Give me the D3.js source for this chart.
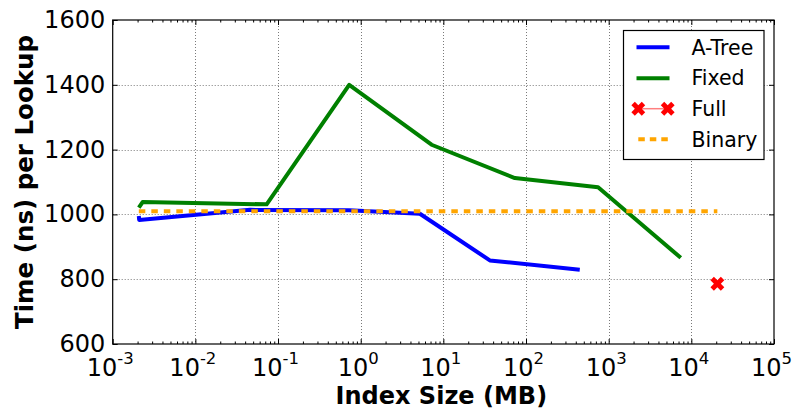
<!DOCTYPE html>
<html>
<head>
<meta charset="utf-8">
<script src="https://cdn.jsdelivr.net/npm/d3@7"></script>
<style>
  html, body { margin: 0; padding: 0; background: #fff; }
  svg { display: block; }
  text { font-family: "DejaVu Sans", sans-serif; fill: #000; }
</style>
</head>
<body>
<script>
// ---- data ----
const atreeSize = [0.00207, 0.00209, 0.046, 0.72, 5.2, 36.5, 447];
const atreeTime = [995, 983, 1014, 1013, 1002, 858, 829];

const fixedSize = [0.00207, 0.0023, 0.0728, 0.726, 7.2, 73.3, 745, 7450];
const fixedTime = [1021, 1038, 1031, 1400, 1215, 1112, 1084, 866];

const fullSize = [20650];
const fullTime = [786];

const binarySize = [0.00207, 20650];
const binaryTime = [1010, 1010];

const xTickExps = [-3, -2, -1, 0, 1, 2, 3, 4, 5];
const yTicks = [600, 800, 1000, 1200, 1400, 1600];

const legendNames = ["A-Tree", "Fixed", "Full", "Binary"];

// ---- layout ----
const W = 797, H = 416;
const L = 112.7, R = 774, T = 20, B = 344;

const svg = d3.select("body").append("svg").attr("width", W).attr("height", H);

const x = d3.scaleLog().domain([1e-3, 1e5]).range([L, R]);
const y = d3.scaleLinear().domain([600, 1600]).range([B, T]);

const zip = (a, b) => a.map((v, i) => [v, b[i]]);

// grid
const grid = svg.append("g").attr("stroke", "#7a7a7a").attr("stroke-width", 1).attr("stroke-dasharray", "1,2").attr("fill", "none");
xTickExps.slice(1, -1).forEach(e => {
  const px = Math.round(x(Math.pow(10, e))) + 0.5;
  grid.append("line").attr("x1", px).attr("x2", px).attr("y1", T).attr("y2", B);
});
yTicks.slice(1, -1).forEach(v => {
  const py = Math.round(y(v)) + 0.5;
  grid.append("line").attr("x1", L).attr("x2", R).attr("y1", py).attr("y2", py);
});

// lines
const line = d3.line().x(d => x(d[0])).y(d => y(d[1]));

svg.append("path").datum(zip(atreeSize, atreeTime))
  .attr("d", line).attr("fill", "none").attr("stroke", "#0000ff").attr("stroke-width", 4)
  .attr("stroke-linejoin", "round");

svg.append("path").datum(zip(fixedSize, fixedTime))
  .attr("d", line).attr("fill", "none").attr("stroke", "#008000").attr("stroke-width", 4)
  .attr("stroke-linejoin", "round");

const xSym = d3.symbol().type(d3.symbolCross).size(120);
svg.selectAll(".full").data(zip(fullSize, fullTime)).enter().append("path")
  .attr("d", xSym)
  .attr("transform", d => `translate(${x(d[0])},${y(d[1])}) rotate(45)`)
  .attr("fill", "#ff0000");

svg.append("path").datum(zip(binarySize, binaryTime))
  .attr("d", line).attr("fill", "none").attr("stroke", "#ffa500").attr("stroke-width", 4)
  .attr("stroke-dasharray", "6.5,6");

// frame
svg.append("rect").attr("x", L).attr("y", T).attr("width", R - L).attr("height", B - T)
  .attr("fill", "none").attr("stroke", "#000").attr("stroke-width", 1.2);

// ticks via d3 axes
const minorVals = [];
for (let e = -3; e < 5; e++) for (let k = 2; k <= 9; k++) minorVals.push(k * Math.pow(10, e));
const majorVals = xTickExps.map(e => Math.pow(10, e));

function styleAxis(g) {
  g.select(".domain").remove();
  g.selectAll("text").remove();
  g.selectAll("line").attr("stroke", "#000").attr("stroke-width", 1);
}
svg.append("g").attr("transform", `translate(0,${B})`)
  .call(d3.axisBottom(x).tickValues(majorVals).tickSize(-5).tickFormat(""))
  .call(styleAxis);
svg.append("g").attr("transform", `translate(0,${B})`)
  .call(d3.axisBottom(x).tickValues(minorVals).tickSize(-2.5).tickFormat(""))
  .call(styleAxis);
svg.append("g").attr("transform", `translate(0,${T})`)
  .call(d3.axisTop(x).tickValues(majorVals).tickSize(-5).tickFormat(""))
  .call(styleAxis);
svg.append("g").attr("transform", `translate(0,${T})`)
  .call(d3.axisTop(x).tickValues(minorVals).tickSize(-2.5).tickFormat(""))
  .call(styleAxis);
svg.append("g").attr("transform", `translate(${L},0)`)
  .call(d3.axisLeft(y).tickValues(yTicks).tickSize(-5).tickFormat(""))
  .call(styleAxis);
svg.append("g").attr("transform", `translate(${R},0)`)
  .call(d3.axisRight(y).tickValues(yTicks).tickSize(-5).tickFormat(""))
  .call(styleAxis);

// y tick labels
svg.append("g").selectAll("text").data(yTicks).enter().append("text")
  .attr("x", L - 7.5).attr("y", d => y(d) + 8)
  .attr("text-anchor", "end").attr("font-size", 24)
  .text(d => d);

// x tick labels
const xl = svg.append("g").selectAll("text").data(xTickExps).enter().append("text")
  .attr("x", d => x(Math.pow(10, d)) - 2.5).attr("y", 375.7)
  .attr("text-anchor", "middle").attr("font-size", 24);
xl.append("tspan").text("10");
xl.append("tspan").attr("font-size", 16.5).attr("dy", -12).text(d => String(d));

// axis titles
svg.append("text").attr("x", (L + R) / 2 - 2).attr("y", 404)
  .attr("text-anchor", "middle").attr("font-size", 24).attr("font-weight", "bold")
  .text("Index Size (MB)");
svg.append("text").attr("transform", `translate(32.5,${(T + B) / 2}) rotate(-90)`)
  .attr("text-anchor", "middle").attr("font-size", 24.5).attr("font-weight", "bold")
  .text("Time (ns) per Lookup");

// legend
const lg = svg.append("g");
lg.append("rect").attr("x", 623.5).attr("y", 30.5).attr("width", 140.5).attr("height", 129)
  .attr("fill", "#fff").attr("stroke", "#000").attr("stroke-width", 1.2);
const rowY = [47.3, 78.2, 108.7, 139.3];
const sx1 = 636.5, sx2 = 669.5;
// A-Tree
lg.append("line").attr("x1", sx1).attr("x2", sx2).attr("y1", rowY[0]).attr("y2", rowY[0])
  .attr("stroke", "#0000ff").attr("stroke-width", 4);
// Fixed
lg.append("line").attr("x1", sx1).attr("x2", sx2).attr("y1", rowY[1]).attr("y2", rowY[1])
  .attr("stroke", "#008000").attr("stroke-width", 4);
// Full
lg.append("line").attr("x1", 638.3).attr("x2", 667.7).attr("y1", rowY[2]).attr("y2", rowY[2])
  .attr("stroke", "#ff7f7f").attr("stroke-width", 1.5);
[638.3, 667.7].forEach(px => {
  lg.append("path").attr("d", xSym).attr("fill", "#ff0000")
    .attr("transform", `translate(${px},${rowY[2]}) rotate(45)`);
});
// Binary
lg.append("line").attr("x1", 638.3).attr("x2", 670).attr("y1", rowY[3]).attr("y2", rowY[3])
  .attr("stroke", "#ffa500").attr("stroke-width", 4).attr("stroke-dasharray", "6.5,5");
lg.selectAll(".lt").data(legendNames).enter().append("text")
  .attr("x", 691.5).attr("y", (d, i) => rowY[i] + 7.2)
  .attr("font-size", 20.5).text(d => d);
</script>
</body>
</html>
